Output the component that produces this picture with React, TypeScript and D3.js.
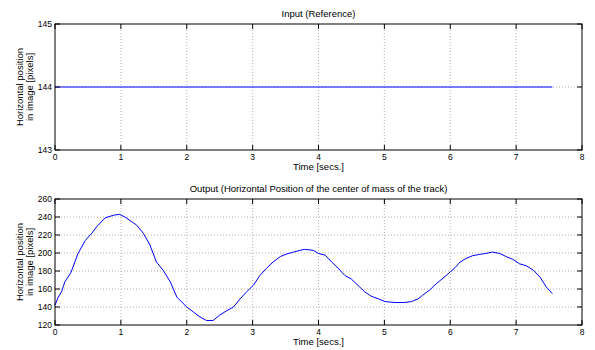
import React, { useEffect, useRef } from 'react';
import * as d3 from 'd3';

// Input (reference) signal
const inputTime = [0, 7.55];
const inputValue = [144, 144];

// Output signal: horizontal position of the track's centre of mass
const outputTime = [
  0, 0.05, 0.1, 0.15, 0.24, 0.35, 0.46, 0.56, 0.63, 0.76, 0.89, 0.98, 1.06, 1.16, 1.24, 1.34,
  1.44, 1.54, 1.64, 1.75, 1.85, 2.0, 2.1, 2.2, 2.3, 2.4, 2.5, 2.61, 2.71, 2.81, 2.91, 3.01,
  3.11, 3.21, 3.31, 3.42, 3.52, 3.62, 3.72, 3.79, 3.92, 4.0, 4.1, 4.2, 4.3, 4.4, 4.5, 4.6,
  4.7, 4.8, 4.91, 5.01, 5.16, 5.31, 5.41, 5.51, 5.58, 5.69, 5.79, 5.89, 6.0, 6.07, 6.15,
  6.24, 6.34, 6.44, 6.54, 6.64, 6.75, 6.85, 6.95, 7.05, 7.15, 7.26, 7.36, 7.46, 7.55,
];
const outputValue = [
  142, 151, 157, 168, 178, 199.5, 214, 222, 229, 239, 242, 243, 240, 235, 231, 222,
  209, 190, 181, 168, 151, 140, 134.5, 129, 125, 125, 131, 136, 140, 149, 157, 164,
  175, 183, 190, 196, 199, 201, 203, 204, 203, 199.5, 197.6, 190, 183, 175, 171, 164,
  157, 152, 149, 146, 145, 145, 146, 149, 153, 159, 166, 172, 179, 183.5, 190,
  194, 197, 198.4, 199.5, 201, 199.5, 196, 193, 188, 186, 181, 173.5, 162, 155,
];

const xTicks = [0, 1, 2, 3, 4, 5, 6, 7, 8];
const inputYTicks = [143, 144, 145];
const outputYTicks = [120, 140, 160, 180, 200, 220, 240, 260];

const FONT = 'Liberation Sans, Arial, Helvetica, sans-serif';

interface PanelSpec {
  top: number;
  title: string;
  time: number[];
  values: number[];
  yDomain: [number, number];
  yTicks: number[];
}

const panels: PanelSpec[] = [
  { top: 24, title: 'Input (Reference)', time: inputTime, values: inputValue, yDomain: [143, 145], yTicks: inputYTicks },
  {
    top: 199,
    title: 'Output (Horizontal Position of the center of mass of the track)',
    time: outputTime,
    values: outputValue,
    yDomain: [120, 260],
    yTicks: outputYTicks,
  },
];

export default function App() {
  const svgRef = useRef<SVGSVGElement>(null);

  useEffect(() => {
    if (!svgRef.current) return;
    const root = d3.select(svgRef.current);
    root.selectAll('*').remove();

    const left = 55;
    const right = 582;
    const plotHeight = 126;
    const tickLen = 5;

    root.append('rect').attr('width', 595).attr('height', 350).attr('fill', '#ffffff');

    panels.forEach((p) => {
      const g = root.append('g').attr('transform', `translate(0, ${p.top})`);
      const x = d3.scaleLinear().domain([0, 8]).range([left, right]);
      const y = d3.scaleLinear().domain(p.yDomain).range([plotHeight, 0]);

      // Grid (dotted)
      xTicks.slice(1, -1).forEach((t) => {
        g.append('line')
          .attr('x1', x(t)).attr('x2', x(t))
          .attr('y1', 0).attr('y2', plotHeight)
          .attr('stroke', '#a0a0a0').attr('stroke-width', 0.8)
          .attr('stroke-dasharray', '1,2');
      });
      p.yTicks.slice(1, -1).forEach((v) => {
        g.append('line')
          .attr('x1', left).attr('x2', right)
          .attr('y1', y(v)).attr('y2', y(v))
          .attr('stroke', '#a0a0a0').attr('stroke-width', 0.8)
          .attr('stroke-dasharray', '1,2');
      });

      // Data line
      const line = d3
        .line<number>()
        .x((_, i) => x(p.time[i]))
        .y((d) => y(d));
      g.append('path')
        .datum(p.values)
        .attr('fill', 'none')
        .attr('stroke', '#0000ff')
        .attr('stroke-width', 1)
        .attr('d', line);

      // Inward ticks on all four sides
      xTicks.forEach((t) => {
        g.append('line').attr('x1', x(t)).attr('x2', x(t)).attr('y1', plotHeight).attr('y2', plotHeight - tickLen).attr('stroke', '#000');
        g.append('line').attr('x1', x(t)).attr('x2', x(t)).attr('y1', 0).attr('y2', tickLen).attr('stroke', '#000');
        g.append('text')
          .attr('x', x(t)).attr('y', plotHeight + 10)
          .attr('text-anchor', 'middle')
          .attr('font-size', '8.5px').attr('font-family', FONT)
          .text(t);
      });
      p.yTicks.forEach((v) => {
        g.append('line').attr('x1', left).attr('x2', left + tickLen).attr('y1', y(v)).attr('y2', y(v)).attr('stroke', '#000');
        g.append('line').attr('x1', right).attr('x2', right - tickLen).attr('y1', y(v)).attr('y2', y(v)).attr('stroke', '#000');
        g.append('text')
          .attr('x', left - 3).attr('y', y(v))
          .attr('dy', '0.35em')
          .attr('text-anchor', 'end')
          .attr('font-size', '8.5px').attr('font-family', FONT)
          .text(v);
      });

      // Box
      g.append('rect')
        .attr('x', left).attr('y', 0)
        .attr('width', right - left).attr('height', plotHeight)
        .attr('fill', 'none').attr('stroke', '#000').attr('stroke-width', 1);

      // Title
      g.append('text')
        .attr('x', (left + right) / 2).attr('y', -7)
        .attr('text-anchor', 'middle')
        .attr('font-size', '9.5px').attr('font-family', FONT)
        .text(p.title);

      // X label
      g.append('text')
        .attr('x', (left + right) / 2).attr('y', plotHeight + 20)
        .attr('text-anchor', 'middle')
        .attr('font-size', '9.5px').attr('font-family', FONT)
        .text('Time [secs.]');

      // Y label (two lines)
      const yl = g.append('text')
        .attr('transform', `translate(23, ${plotHeight / 2}) rotate(-90)`)
        .attr('text-anchor', 'middle')
        .attr('font-size', '9.5px').attr('font-family', FONT);
      yl.append('tspan').attr('x', 0).attr('y', 0).text('Horizontal position');
      yl.append('tspan').attr('x', 0).attr('y', 10).text('in image [pixels]');
    });
  }, []);

  return (
    <div style={{ position: 'absolute', left: 0, top: 0 }}>
      <svg ref={svgRef} width={595} height={350} style={{ display: 'block' }}></svg>
    </div>
  );
}
